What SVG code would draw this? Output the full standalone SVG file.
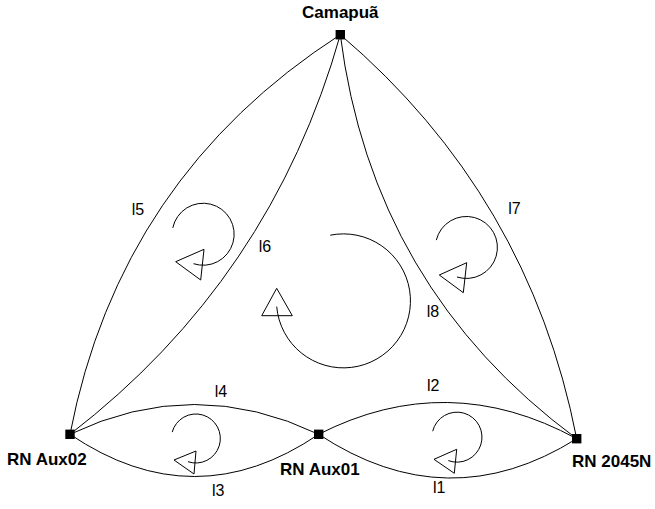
<svg xmlns="http://www.w3.org/2000/svg" width="655" height="509" viewBox="0 0 655 509">
<style>
.ln{fill:none;stroke:#000;stroke-width:1}
.lp{fill:none;stroke:#000;stroke-width:1}
.ah{fill:none;stroke:#000;stroke-width:1;stroke-linejoin:miter}
.nd{fill:#000}
.nl{font-family:"Liberation Sans",Arial,sans-serif;font-weight:bold;font-size:17px;fill:#000}
.el{font-family:"Liberation Sans",Arial,sans-serif;font-size:16px;fill:#000}
</style>
<rect width="655" height="509" fill="#fff"/>
<g id="connectors">
<path id="l5" class="ln" d="M340.3,34.7 Q119.7,176.8 70,434.3"/>
<path id="l6" class="ln" d="M340.3,34.7 Q271.3,279.3 70,434.3"/>
<path id="l7" class="ln" d="M340.3,34.7 Q529.2,195.5 576.7,438.7"/>
<path id="l8" class="ln" d="M340.3,34.7 Q372.2,287.6 576.7,438.7"/>
<path id="l4" class="ln" d="M70,434.3 Q194.4,374.7 318.7,434.3"/>
<path id="l3" class="ln" d="M70,434.3 Q194.4,518.7 318.7,434.3"/>
<path id="l2" class="ln" d="M318.7,434.3 Q447.7,368.5 576.7,438.7"/>
<path id="l1" class="ln" d="M318.7,434.3 Q447.7,519.5 576.7,438.7"/>
</g>
<g id="edge-labels">
<text class="el" x="131.7" y="215">l5</text>
<text class="el" x="258.7" y="252.3">l6</text>
<text class="el" x="508.3" y="214">l7</text>
<text class="el" x="426.7" y="317.3">l8</text>
<text class="el" x="214.8" y="396.7">l4</text>
<text class="el" x="427" y="391">l2</text>
<text class="el" x="212" y="496">l3</text>
<text class="el" x="433" y="493">l1</text>
</g>
<g id="loops">
<g id="loop-l5-l6"><path class="lp" d="M172.8,227.9 A31,31 0 1 1 193.5,263.7"/><polygon class="ah" points="175.7,261.7 204,249.3 200.7,280"/></g>
<g id="loop-center"><path class="lp" d="M330.2,235.2 A67,67 0 1 1 276.7,306.6"/><polygon class="ah" points="276.7,288.3 261.7,315.7 292.3,315.7"/></g>
<g id="loop-l7-l8"><path class="lp" d="M436.3,240.1 A31,31 0 1 1 457,277"/><polygon class="ah" points="439.3,275 466.7,262.7 463.3,292.7"/></g>
<g id="loop-l3-l4"><path class="lp" d="M172.2,432.1 A24.5,24.5 0 1 1 188,461.7"/><polygon class="ah" points="174,460 196,451 194,474"/></g>
<g id="loop-l1-l2"><path class="lp" d="M432.7,431.2 A25,25 0 1 1 448.3,460.6"/><polygon class="ah" points="434,459.3 456.7,449.3 454.3,473.3"/></g>
</g>
<g id="node-camapua"><rect class="nd" x="335.6" y="30" width="9.4" height="9.4"/><text class="nl" x="340.3" y="18.3" text-anchor="middle">Camapuã</text></g>
<g id="node-rn-aux02"><rect class="nd" x="65.3" y="429.6" width="9.4" height="9.4"/><text class="nl" x="7" y="465">RN Aux02</text></g>
<g id="node-rn-aux01"><rect class="nd" x="314" y="429.6" width="9.4" height="9.4"/><text class="nl" x="280" y="475">RN Aux01</text></g>
<g id="node-rn-2045n"><rect class="nd" x="572" y="434" width="9.4" height="9.4"/><text class="nl" x="572" y="466.5">RN 2045N</text></g>
</svg>
